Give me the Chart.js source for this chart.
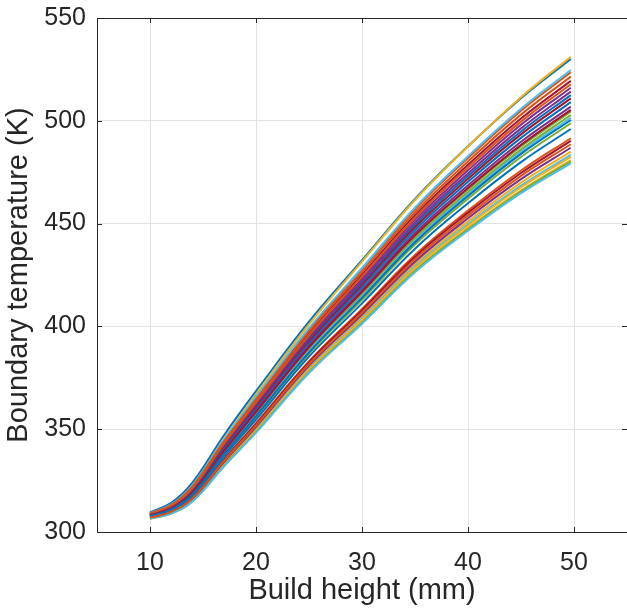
<!DOCTYPE html>
<html>
<head>
<meta charset="utf-8">
<script src="https://cdn.jsdelivr.net/npm/chart.js@4.4.1/dist/chart.umd.min.js"></script>
<style>
  html, body { margin: 0; padding: 0; background: #fff; }
  #wrap { width: 627px; height: 608px; }
</style>
</head>
<body>
<div id="wrap"><canvas id="myChart"></canvas></div>
<script>
// build height (mm) where each run was sampled
const buildHeight = [10, 12, 14, 17, 20, 25, 30, 35, 40, 45, 49.7];

// boundary temperature (K) for each simulated run, in plot order
const runs = [
  [309.6, 314.2, 324.0, 347.2, 368.5, 402.3, 432.2, 462.0, 487.6, 511.0, 530.1],
  [309.3, 313.3, 322.4, 344.8, 365.3, 398.6, 427.7, 457.0, 481.9, 504.9, 523.6],
  [308.8, 313.0, 322.5, 345.5, 367.0, 401.0, 431.5, 461.5, 487.5, 511.5, 531.2],
  [308.6, 312.6, 321.1, 342.6, 362.4, 395.0, 423.2, 451.8, 475.9, 498.1, 516.1],
  [308.0, 311.4, 319.1, 339.3, 357.9, 389.4, 416.3, 443.7, 466.6, 487.5, 504.4],
  [309.1, 313.4, 322.6, 345.1, 365.8, 399.1, 428.4, 457.8, 482.8, 505.9, 524.7],
  [308.8, 312.9, 321.7, 343.6, 363.7, 396.6, 425.2, 454.1, 478.6, 501.1, 519.4],

  [308.4, 312.2, 320.5, 341.6, 361.1, 393.3, 421.1, 449.3, 473.1, 494.8, 512.5],
  [308.9, 313.1, 322.1, 344.2, 364.5, 397.6, 426.5, 455.5, 480.2, 503.0, 521.5],
  [306.8, 309.6, 315.7, 333.7, 350.5, 380.0, 404.7, 430.2, 451.1, 469.9, 485.0],
  [308.5, 312.4, 320.8, 342.1, 361.7, 394.1, 422.1, 450.4, 474.4, 496.3, 514.2],
  [307.9, 311.3, 318.8, 338.8, 357.3, 388.6, 415.3, 442.6, 465.3, 486.0, 502.8],
  [307.8, 311.1, 318.6, 338.4, 356.8, 388.0, 414.5, 441.7, 464.3, 484.9, 501.5],
  [308.3, 312.1, 320.2, 341.1, 360.4, 392.5, 420.1, 448.2, 471.8, 493.4, 510.9],

  [308.2, 311.9, 319.9, 340.6, 359.7, 391.6, 419.0, 446.9, 470.3, 491.7, 509.1],
  [308.7, 312.7, 321.4, 343.1, 363.1, 395.8, 424.3, 453.0, 477.3, 499.6, 517.8],
  [306.3, 308.9, 315.0, 332.5, 348.9, 378.0, 402.2, 427.4, 447.8, 466.2, 480.9],
  [308.1, 311.7, 319.5, 340.0, 358.9, 390.6, 417.7, 445.4, 468.6, 489.8, 506.9],
  [307.6, 310.9, 318.1, 337.6, 355.8, 386.7, 412.9, 439.8, 462.1, 482.4, 498.8],
  [306.7, 309.4, 315.5, 333.2, 349.8, 379.2, 403.7, 429.1, 449.8, 468.5, 483.4],
  [308.0, 311.5, 319.3, 339.5, 358.3, 389.8, 416.8, 444.3, 467.3, 488.3, 505.3],

  [307.7, 311.0, 318.4, 338.1, 356.4, 387.4, 413.9, 440.9, 463.4, 483.9, 500.4],
  [307.2, 310.2, 316.9, 335.5, 353.0, 383.1, 408.5, 434.7, 456.3, 475.8, 491.5],
  [306.7, 309.3, 315.3, 332.9, 349.5, 378.8, 403.2, 428.5, 449.1, 467.7, 482.5],
  [306.9, 309.7, 316.1, 334.2, 351.2, 380.9, 405.8, 431.5, 452.6, 471.6, 486.9],
  [306.6, 309.1, 314.9, 332.3, 348.6, 377.7, 401.8, 426.9, 447.2, 465.6, 480.2],
  [306.5, 309.0, 314.8, 332.0, 348.3, 377.3, 401.3, 426.3, 446.5, 464.8, 479.3],
  [307.1, 310.1, 316.6, 335.2, 352.5, 382.5, 407.8, 433.8, 455.2, 474.6, 490.2],

  [307.5, 310.6, 317.7, 336.8, 354.7, 385.3, 411.2, 437.8, 459.9, 479.9, 496.0],
  [307.0, 309.9, 316.4, 334.7, 351.8, 381.7, 406.8, 432.7, 453.9, 473.2, 488.6]
];

const xTicks = [10, 20, 30, 40, 50];
const yTicks = [300, 350, 400, 450, 500, 550];

// matlab default line colour order
const palette = ['#0072BD', '#D95319', '#EDB120', '#7E2F8E', '#77AC30', '#4DBEEE', '#A2142F'];

const axisColor = '#262626';
const fontFamily = 'Helvetica, Arial, "Liberation Sans", sans-serif';

// box round the axes with inward ticks, like matlab "box on"
const boxPlugin = {
  id: 'boxPlugin',
  afterDraw(chart) {
    const { ctx, chartArea: a, scales } = chart;
    ctx.save();
    ctx.strokeStyle = axisColor;
    ctx.lineWidth = 1;
    ctx.strokeRect(a.left + 0.5, a.top + 0.5, a.right - a.left, a.bottom - a.top);
    ctx.beginPath();
    xTicks.forEach(v => {
      const px = Math.round(scales.x.getPixelForValue(v)) + 0.5;
      ctx.moveTo(px, a.bottom); ctx.lineTo(px, a.bottom - 5);
      ctx.moveTo(px, a.top); ctx.lineTo(px, a.top + 5);
    });
    yTicks.forEach(v => {
      const py = Math.round(scales.y.getPixelForValue(v)) + 0.5;
      ctx.moveTo(a.left, py); ctx.lineTo(a.left + 5, py);
      ctx.moveTo(a.right, py); ctx.lineTo(a.right - 5, py);
    });
    ctx.stroke();
    ctx.restore();
  }
};

const ctx = document.getElementById('myChart').getContext('2d');
new Chart(ctx, {
  type: 'line',
  data: {
    datasets: runs.map((run, i) => ({
      data: run.map((t, j) => ({ x: buildHeight[j], y: t })),
      borderColor: palette[i % palette.length],
      backgroundColor: palette[i % palette.length],
      borderWidth: 2,
      pointRadius: 0,
      fill: false,
      tension: 0.4,
      order: runs.length - i
    }))
  },
  options: {
    responsive: true,
    maintainAspectRatio: false,
    animation: false,
    layout: { padding: { top: 18, right: 0, bottom: 0, left: 0 } },
    plugins: {
      legend: { display: false },
      tooltip: { enabled: false }
    },
    scales: {
      x: {
        type: 'linear',
        min: 5,
        max: 55,
        afterBuildTicks: s => { s.ticks = xTicks.map(v => ({ value: v })); },
        afterFit: s => { s.height = 76; s.paddingLeft = 0; s.paddingRight = 0; },
        grid: { color: '#e3e3e3', drawTicks: false },
        border: { display: false },
        ticks: { color: axisColor, padding: 16, font: { family: fontFamily, size: 25 } },
        title: {
          display: true,
          text: 'Build height (mm)',
          color: axisColor,
          padding: { top: 0, bottom: 0 },
          font: { family: fontFamily, size: 29 }
        }
      },
      y: {
        min: 300,
        max: 550,
        afterBuildTicks: s => { s.ticks = yTicks.map(v => ({ value: v })); },
        afterFit: s => { s.width = 97; s.paddingTop = 0; s.paddingBottom = 0; },
        grid: { color: '#e3e3e3', drawTicks: false },
        border: { display: false },
        ticks: { color: axisColor, padding: 11, font: { family: fontFamily, size: 25 } },
        title: {
          display: true,
          text: 'Boundary temperature (K)',
          color: axisColor,
          padding: { top: 2, bottom: 0 },
          font: { family: fontFamily, size: 29 }
        }
      }
    }
  },
  plugins: [boxPlugin]
});
</script>
</body>
</html>
